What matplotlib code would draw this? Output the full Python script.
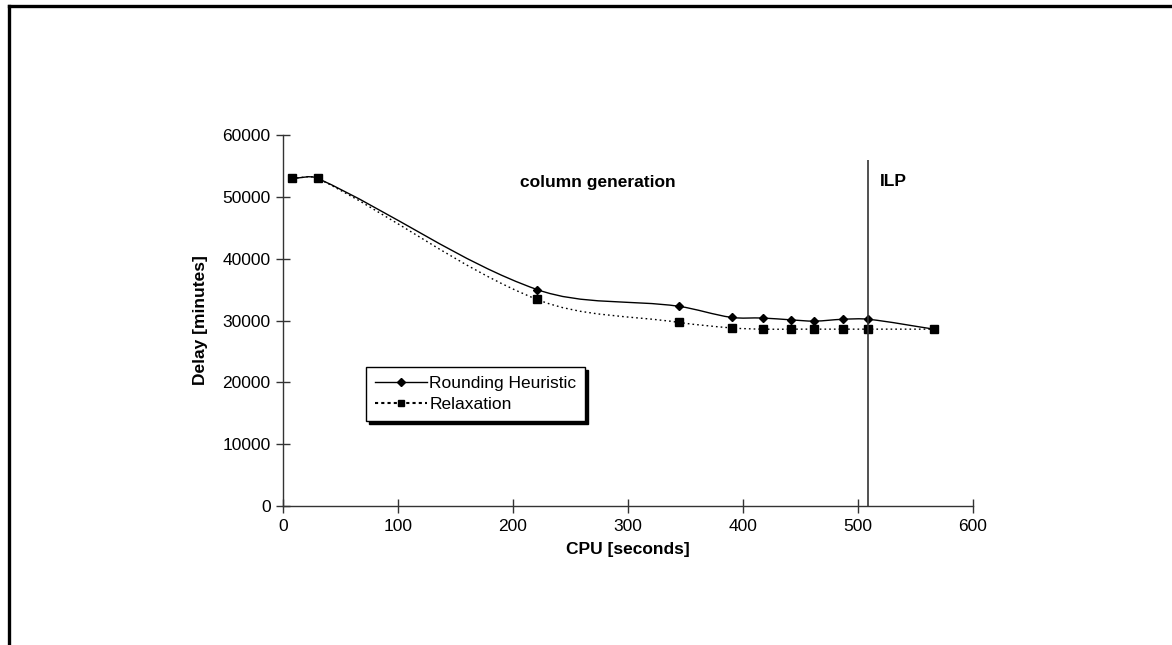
import numpy as np
import matplotlib.pyplot as plt
from matplotlib.lines import Line2D
from matplotlib.path import Path
from matplotlib.patches import PathPatch

plt.rcParams['font.family'] = ['Liberation Sans', 'DejaVu Sans']

cpu = [8, 30, 221, 344, 390, 417, 442, 462, 487, 509, 566]
rounding = [53000, 53000, 35000, 32300, 30500, 30400, 30100, 29900, 30200, 30200, 28600]
relaxation = [53000, 53000, 33400, 29700, 28800, 28600, 28600, 28600, 28600, 28600, 28600]
ilp_time = 509
ilp_top = 56000

XMAX, YMAX = 600, 60000


def smooth_path(x, y, sx, sy):
    # Excel-like smoothed line: cubic bezier through the points,
    # tangents computed in screen-scaled units
    p = np.column_stack([np.asarray(x, float) * sx, np.asarray(y, float) * sy])
    n = len(p)
    d = np.zeros_like(p)
    for i in range(n):
        a = p[max(i - 1, 0)]
        b = p[min(i + 1, n - 1)]
        v = b - a
        d[i] = v / np.hypot(*v)
    verts = [p[0]]
    codes = [Path.MOVETO]
    for i in range(n - 1):
        L = np.hypot(*(p[i + 1] - p[i]))
        verts += [p[i] + d[i] * L / 3, p[i + 1] - d[i + 1] * L / 3, p[i + 1]]
        codes += [Path.CURVE4] * 3
    verts = np.array(verts)
    verts[:, 0] /= sx
    verts[:, 1] /= sy
    return Path(verts, codes)


fig = plt.figure(figsize=(11.72, 6.45), dpi=100)
ax = fig.add_axes([0.2415, 0.2155, 0.5887, 0.5752])

sx = 690 / XMAX
sy = 371 / YMAX
ax.add_patch(PathPatch(smooth_path(cpu, rounding, sx, sy), fill=False,
                       edgecolor='black', lw=1.0))
ax.add_patch(PathPatch(smooth_path(cpu, relaxation, sx, sy), fill=False,
                       edgecolor='black', lw=1.0, linestyle=(0, (1.2, 2.2))))
ax.plot(cpu, rounding, linestyle='none', marker='D', ms=4, color='black')
ax.plot(cpu, relaxation, linestyle='none', marker='s', ms=5.5, color='black')

ax.vlines(ilp_time, 0, ilp_top, color='#333333', lw=1.2)

ax.set_xlim(0, XMAX)
ax.set_ylim(0, YMAX)
ax.set_xticks(range(0, 601, 100))
ax.set_yticks(range(0, 60001, 10000))
ax.tick_params(direction='inout', length=10, width=1, labelsize=12.5,
               color='#333333', pad=4)
for s in ['top', 'right']:
    ax.spines[s].set_visible(False)
for s in ['left', 'bottom']:
    ax.spines[s].set_color('#333333')
    ax.spines[s].set_linewidth(1)

ax.set_xlabel('CPU [seconds]', fontsize=12.5, fontweight='bold', labelpad=6)
ax.set_ylabel('Delay [minutes]', fontsize=12.5, fontweight='bold', labelpad=10)

ax.text(206, 52300, 'column generation', fontsize=12.5, fontweight='bold',
        va='center', ha='left')
ax.text(519, 52500, 'ILP', fontsize=12.5, fontweight='bold', va='center', ha='left')

handles = [
    Line2D([], [], color='black', lw=1, marker='D', ms=4),
    Line2D([], [], color='black', lw=1.5, linestyle=(0, (1.5, 1.5)), marker='s', ms=5),
]
leg = fig.legend(handles, ['Rounding Heuristic', 'Relaxation'],
                 loc='upper left', bbox_to_anchor=(366 / 1172, 1 - 367 / 645),
                 bbox_transform=fig.transFigure, borderaxespad=0,
                 fancybox=False, edgecolor='black', fontsize=12.5,
                 handlelength=3.0, handletextpad=0.15, labelspacing=0.35,
                 borderpad=0.5, shadow={'color': 'black', 'alpha': 1})
leg.get_frame().set_linewidth(1)

# outer frame (top and left edges visible)
fig.add_artist(Line2D([8.5 / 1172, 1], [1 - 5.5 / 645, 1 - 5.5 / 645],
                      transform=fig.transFigure, color='black', lw=2.4))
fig.add_artist(Line2D([8.5 / 1172, 8.5 / 1172], [0, 1 - 5.5 / 645],
                      transform=fig.transFigure, color='black', lw=2.4))

fig.savefig('out.png', dpi=100, facecolor='white')
